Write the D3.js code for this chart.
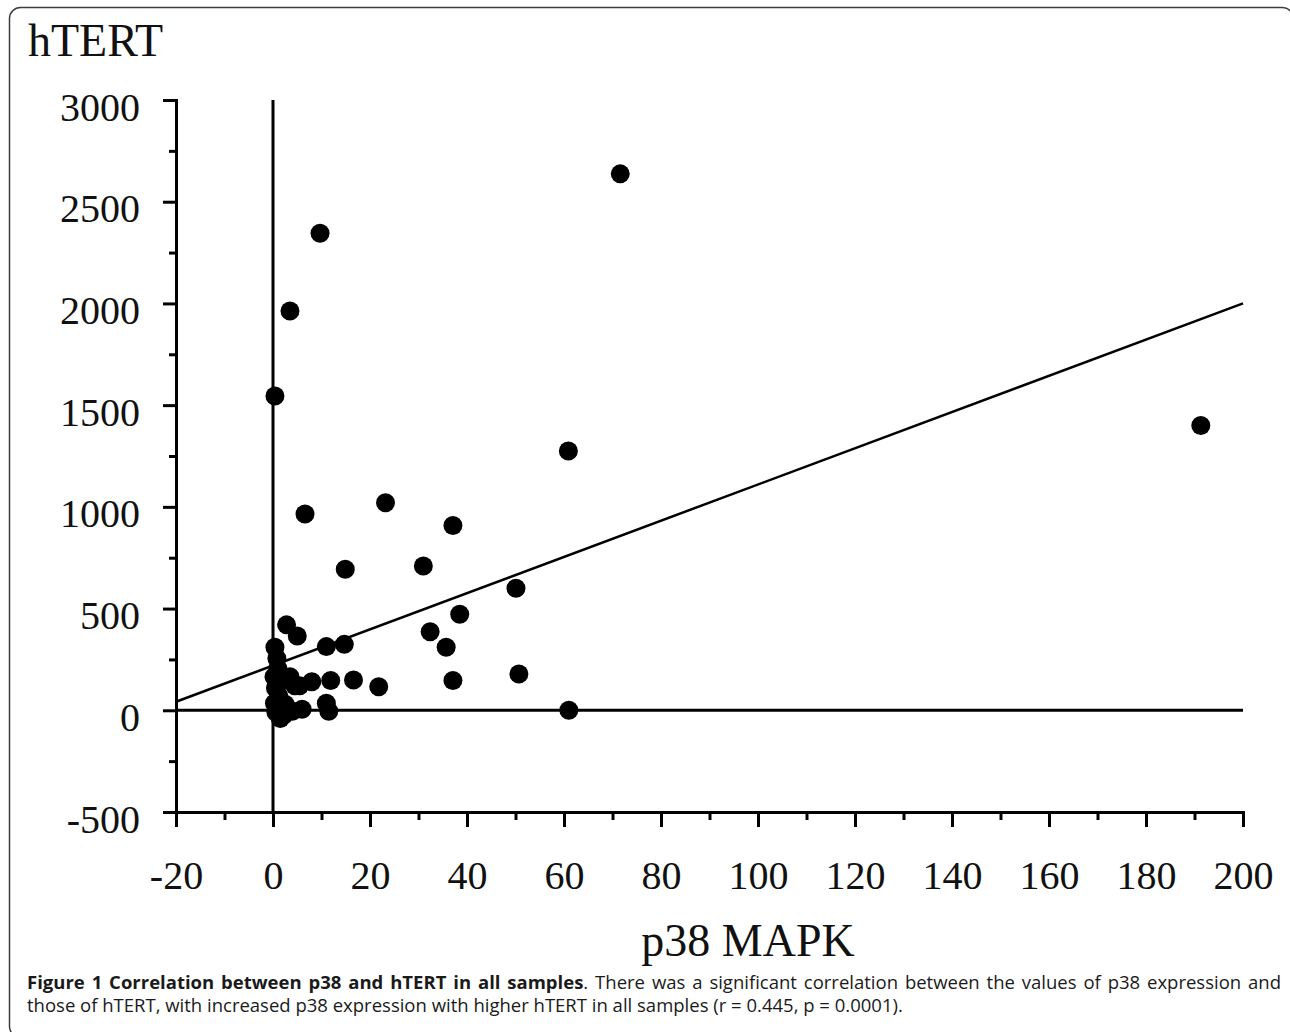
<!DOCTYPE html>
<html>
<head>
<meta charset="utf-8">
<script src="https://cdn.jsdelivr.net/npm/d3@7"></script>
<style>
    body { margin: 0; background: #fff; }
    .axis path, .axis line { stroke: #000; stroke-width: 3; }
    .axis text { font-family: "Liberation Serif", "Times New Roman", serif; font-size: 40px; fill: #111; }
</style>
</head>
<body>
<div id="chart"></div>
<script>
// p38 MAPK expression (x) and hTERT (y) per sample
const p38 = [71.6, 9.7, 3.5, 0.4, 191.3, 60.9, 23.2, 6.6, 37.1, 14.9,
             31.0, 50.1, 38.5, 32.4, 35.7, 37.1, 50.7, 61.0, 21.8, 2.8,
             5.0, 11.0, 14.7, 11.9, 16.6, 8.0, 11.0, 11.5,
             0.4, 0.8, 1.0, 0.2, 2.2, 0.5, 3.5, 1.2, 4.5, 0.3,
             2.5, 0.6, 2.2, 4.0, 6.0, 1.5, 5.5];
const htert = [2637, 2345, 1963, 1545, 1400, 1275, 1020, 965, 908, 693,
               709, 600, 472, 386, 310, 146, 178, 0, 116, 420,
               365, 313, 324, 146, 149, 140, 35, -5,
               310, 255, 205, 165, 150, 110, 165, 70, 120, 35,
               30, -10, -25, -5, 5, -40, 120];

const xTicks = [-20, 0, 20, 40, 60, 80, 100, 120, 140, 160, 180, 200];
const xMinorTicks = [-10, 10, 30, 50, 70, 90, 110, 130, 150, 170, 190];
const yTicks = [-500, 0, 500, 1000, 1500, 2000, 2500, 3000];
const yMinorTicks = [-250, 250, 750, 1250, 1750, 2250, 2750];

// fitted line: hTERT = fitIntercept + fitSlope * p38
const fitIntercept = 220;
const fitSlope = 8.9;

const titleText = "hTERT";
const xLabelText = "p38 MAPK";
const captionBold = "Figure 1 Correlation between p38 and hTERT in all samples";
const captionRest = ". There was a significant correlation between the values of p38 expression and";
const captionLine2 = "those of hTERT, with increased p38 expression with higher hTERT in all samples (r = 0.445, p = 0.0001).";


ScatterVis = function(_parentElement) {
    this.parentElement = _parentElement;
    this.initVis();
};

ScatterVis.prototype.initVis = function() {
    let vis = this;

    vis.margin = { top: 100, right: 47, bottom: 220, left: 176 };
    vis.width = 1290 - vis.margin.left - vis.margin.right;
    vis.height = 1032 - vis.margin.top - vis.margin.bottom;

    vis.root = d3.select(vis.parentElement).append("svg")
        .attr("width", 1290)
        .attr("height", 1032);

    // rounded frame round the whole figure (right and bottom run off the page)
    vis.root.append("rect")
        .attr("x", 9.5)
        .attr("y", 7.5)
        .attr("width", 1284)
        .attr("height", 1030)
        .attr("rx", 11)
        .attr("fill", "none")
        .attr("stroke", "#3c3c3c")
        .attr("stroke-width", 1.5);

    vis.root.append("text")
        .attr("x", 28)
        .attr("y", 56)
        .attr("font-family", "Liberation Serif, Times New Roman, serif")
        .attr("font-size", 46)
        .attr("fill", "#111")
        .text(titleText);

    vis.svg = vis.root.append("g")
        .attr("transform", "translate(" + vis.margin.left + "," + vis.margin.top + ")");

    vis.x = d3.scaleLinear()
        .domain([-20, 200])
        .range([0, vis.width]);

    vis.y = d3.scaleLinear()
        .domain([-500, 3000])
        .range([vis.height, 0]);

    let plain = function(d) { return String(d); };

    // minor ticks first, major axis on top
    vis.svg.append("g")
        .attr("class", "axis")
        .call(d3.axisLeft(vis.y).tickValues(yMinorTicks).tickSize(7).tickSizeOuter(0).tickFormat(""));

    vis.yAxis = d3.axisLeft(vis.y)
        .tickValues(yTicks)
        .tickSize(13)
        .tickSizeOuter(0)
        .tickPadding(23)
        .tickFormat(plain);

    vis.svg.append("g")
        .attr("class", "axis")
        .call(vis.yAxis)
        .selectAll("text")
        .attr("dy", "0.5em");

    vis.svg.append("g")
        .attr("class", "axis")
        .attr("transform", "translate(0," + vis.height + ")")
        .call(d3.axisBottom(vis.x).tickValues(xMinorTicks).tickSize(8).tickSizeOuter(0).tickFormat(""));

    vis.xAxis = d3.axisBottom(vis.x)
        .tickValues(xTicks)
        .tickSize(15)
        .tickSizeOuter(0)
        .tickPadding(34)
        .tickFormat(plain);

    vis.svg.append("g")
        .attr("class", "axis")
        .attr("transform", "translate(0," + vis.height + ")")
        .call(vis.xAxis);

    vis.svg.selectAll(".axis .domain")
        .attr("stroke-linecap", "square");

    // zero lines
    vis.svg.append("line")
        .attr("x1", vis.x(0))
        .attr("x2", vis.x(0))
        .attr("y1", vis.y(3000))
        .attr("y2", vis.y(-500))
        .attr("stroke", "#000")
        .attr("stroke-width", 3);

    vis.svg.append("line")
        .attr("x1", vis.x(-20))
        .attr("x2", vis.x(200))
        .attr("y1", vis.y(0))
        .attr("y2", vis.y(0))
        .attr("stroke", "#000")
        .attr("stroke-width", 3);

    // regression line
    vis.svg.append("line")
        .attr("x1", vis.x(-20))
        .attr("x2", vis.x(200))
        .attr("y1", vis.y(fitIntercept + fitSlope * -20))
        .attr("y2", vis.y(fitIntercept + fitSlope * 200))
        .attr("stroke", "#000")
        .attr("stroke-width", 2.5);

    vis.svg.selectAll(".dot")
        .data(d3.zip(p38, htert))
        .enter().append("circle")
        .attr("class", "dot")
        .attr("cx", function(d) { return vis.x(d[0]); })
        .attr("cy", function(d) { return vis.y(d[1]); })
        .attr("r", 9.5)
        .attr("fill", "#000");

    vis.root.append("text")
        .attr("x", 748)
        .attr("y", 956)
        .attr("text-anchor", "middle")
        .attr("font-family", "Liberation Serif, Times New Roman, serif")
        .attr("font-size", 46)
        .attr("fill", "#111")
        .text(xLabelText);

    vis.drawCaption();
};

ScatterVis.prototype.drawCaption = function() {
    let vis = this;

    let cap = vis.root.append("g")
        .attr("font-family", "Open Sans, Noto Sans, sans-serif")
        .attr("font-size", 18.5)
        .attr("fill", "#1a1a1a");

    // first line is justified: bold words, then the rest
    let tokens = captionBold.split(" ").map(function(w) { return [{ t: w, bold: true }]; });
    let rest = captionRest.split(" ");
    tokens[tokens.length - 1].push({ t: rest[0], bold: false });
    rest.slice(1).forEach(function(w) { tokens.push([{ t: w, bold: false }]); });

    let texts = tokens.map(function(tok) {
        let t = cap.append("text").attr("y", 989);
        tok.forEach(function(p) {
            t.append("tspan")
                .attr("font-weight", p.bold ? 700 : 400)
                .text(p.t);
        });
        return t;
    });
    let widths = texts.map(function(t) { return t.node().getComputedTextLength(); });
    let gap = (1281 - 27 - d3.sum(widths)) / (texts.length - 1);
    let xPos = 27;
    texts.forEach(function(t, i) {
        t.attr("x", xPos);
        xPos += widths[i] + gap;
    });

    cap.append("text")
        .attr("x", 27)
        .attr("y", 1012)
        .text(captionLine2);
};

new ScatterVis("#chart");
</script>
</body>
</html>
